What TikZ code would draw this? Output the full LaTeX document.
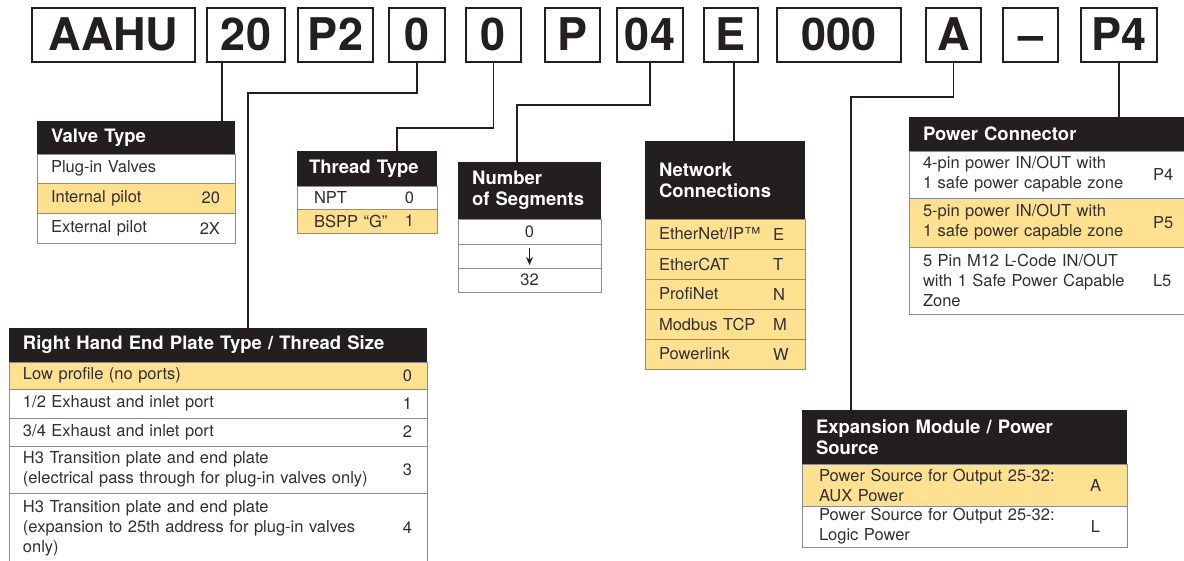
\documentclass[tikz,border=0pt]{standalone}
\usepackage{fontspec}
\setmainfont{TeX Gyre Heros}
\usetikzlibrary{positioning, arrows.meta}
\definecolor{ink}{RGB}{35,31,32}
\definecolor{txt}{RGB}{50,47,48}
\definecolor{rule}{RGB}{140,140,140}
\definecolor{hilite}{RGB}{254,224,145}
\tikzset{
    x=1pt, y=-1pt, % pixel grid, origin top left
    every node/.style={inner sep=0pt, outer sep=0pt},
    code/.style={draw=ink, line width=1.1pt, minimum height=54pt, text height=32pt, text depth=0pt, anchor=north west, text=ink, font=\fontsize{45}{45}\selectfont\bfseries}, % order code boxes
    head/.style={fill=ink, text=white, inner xsep=14pt, align=left, anchor=north west, font=\fontsize{18.5}{21}\selectfont\bfseries}, % table titles
    row/.style={draw=rule, line width=0.8pt, inner xsep=14pt, align=left, text=txt, font=\fontsize{16.5}{20}\selectfont},
    sel/.style={row, fill=hilite}, % highlighted option
    val/.style={text=txt, font=\fontsize{16.5}{20}\selectfont},
    link/.style={draw=ink, line width=1.5pt},
}

\begin{document}
\begin{tikzpicture}
    \useasboundingbox (0,0) rectangle (1184,561);

    % Order code
    \foreach \nm/\x/\w/\t in {AAHU/32/163/AAHU, 20/207/78/20, P2/298/75/P2, 0a/389/56/0, 0b/466/55/0,
        P/545/55/P, 04/617/66/04, E/704/54/E, 000/777/124/000, A/926/55/A, dash/1003/55/{--}, P4/1081/76/P4}
        \node[code, minimum width=\w pt] (c\nm) at (\x,8) {\t};

    % Valve type
    \node[head, text width=170pt, minimum height=33pt] (vt-h) at (37,121) {Valve Type};
    \node[row, text width=170pt, minimum height=29pt, below=0pt of vt-h] (vt-1) {Plug-in Valves};
    \node[sel, text width=170pt, minimum height=30pt, below=0pt of vt-1] (vt-2) {Internal pilot};
    \node[row, text width=170pt, minimum height=30pt, below=0pt of vt-2] (vt-3) {External pilot};
    \node[val, left=15pt of vt-2.east] {20};
    \node[val, left=15pt of vt-3.east] {2X};

    % Thread type
    \node[head, inner xsep=12pt, text width=116pt, minimum height=35pt] (tt-h) at (297,151) {Thread Type};
    \node[row, inner xsep=17pt, text width=106pt, minimum height=23pt, below=0pt of tt-h] (tt-1) {NPT};
    \node[sel, inner xsep=17pt, text width=106pt, minimum height=24pt, below=0pt of tt-1] (tt-2) {BSPP “G”};
    \node[val, left=23pt of tt-1.east] {0};
    \node[val, left=23pt of tt-2.east] {1};

    % Number of segments
    \node[head, text width=115pt, minimum height=57pt] (ns-h) at (458,162) {Number\\of Segments};
    \node[row, align=center, text width=115pt, minimum height=25pt, below=0pt of ns-h] (ns-1) {0};
    \node[row, text width=115pt, minimum height=24pt, below=0pt of ns-1] (ns-2) {};
    \node[row, align=center, text width=115pt, minimum height=24pt, below=0pt of ns-2] (ns-3) {32};
    \draw[-{Stealth[length=8pt,width=7pt]}, line width=1pt, draw=ink] ([yshift=-4pt]ns-2.north) -- ([yshift=3pt]ns-2.south);

    % Network connections
    \node[head, text width=132pt, minimum height=78pt] (nc-0) at (645,141) {Network\\Connections};
    \foreach \i/\t/\c in {1/{EtherNet/IP\texttrademark}/E, 2/EtherCAT/T, 3/ProfiNet/N, 4/Modbus TCP/M, 5/Powerlink/W} {
        \pgfmathtruncatemacro\j{\i-1}
        \node[sel, text width=132pt, minimum height=30pt, below=0pt of nc-\j] (nc-\i) {\t};
        \node[val, right=128pt of nc-\i.west] {\c};
    }

    % Power connector
    \node[head, text width=253pt, minimum height=34pt] (pc-h) at (909,117) {Power Connector};
    \node[row, text width=253pt, minimum height=47pt, below=0pt of pc-h] (pc-1) {4-pin power IN/OUT with\\1 safe power capable zone};
    \node[sel, text width=253pt, minimum height=49pt, below=0pt of pc-1] (pc-2) {5-pin power IN/OUT with\\1 safe power capable zone};
    \node[row, text width=253pt, minimum height=67pt, below=0pt of pc-2] (pc-3) {5 Pin M12 L-Code IN/OUT\\with 1 Safe Power Capable\\Zone};
    \node[val, right=244pt of pc-1.west] {P4};
    \node[val, right=244pt of pc-2.west] {P5};
    \node[val, right=244pt of pc-3.west] {L5};

    % Right hand end plate
    \node[head, text width=390pt, minimum height=34pt] (rh-h) at (9,328) {Right Hand End Plate Type / Thread Size};
    \node[sel, text width=390pt, minimum height=27pt, below=0pt of rh-h] (rh-1) {Low profile (no ports)};
    \node[row, text width=390pt, minimum height=29pt, below=0pt of rh-1] (rh-2) {1/2 Exhaust and inlet port};
    \node[row, text width=390pt, minimum height=28pt, below=0pt of rh-2] (rh-3) {3/4 Exhaust and inlet port};
    \node[row, text width=390pt, minimum height=47pt, below=0pt of rh-3] (rh-4) {H3 Transition plate and end plate\\(electrical pass through for plug-in valves only)};
    \node[row, text width=390pt, minimum height=70pt, below=0pt of rh-4] (rh-5) {H3 Transition plate and end plate\\(expansion to 25th address for plug-in valves\\only)};
    \foreach \i/\c in {1/0, 2/1, 3/2, 4/3, 5/4}
        \node[val, left=15pt of rh-\i.east] {\c};

    % Expansion module
    \node[head, text width=297pt, minimum height=54pt] (em-h) at (802,410) {Expansion Module / Power\\Source};
    \node[sel, inner xsep=17pt, text width=291pt, minimum height=42pt, below=0pt of em-h] (em-1) {Power Source for Output 25-32:\\AUX Power};
    \node[row, inner xsep=17pt, text width=291pt, minimum height=41pt, below=0pt of em-1] (em-2) {Power Source for Output 25-32:\\Logic Power};
    \node[val, left=26pt of em-1.east] {A};
    \node[val, left=27pt of em-2.east] {L};

    % Leader lines
    \coordinate (vtk) at ([xshift=15pt]c20.south west);
    \coordinate (rhk) at (248,93);
    \coordinate (ttk) at (397,128);
    \coordinate (nsk) at (517,105);
    \coordinate (emk) at (851,97);
    \draw[link] (vtk) -- (vtk |- vt-h.north);
    \draw[link] (c0a.south) |- (rhk) -- (rhk |- rh-h.north);
    \draw[link] (c0b.south) |- (ttk) -- (ttk |- tt-h.north);
    \draw[link] (c04.south) |- (nsk) -- (nsk |- ns-h.north);
    \draw[link] ([xshift=3pt]cE.south) -- ([xshift=3pt]cE.south |- nc-0.north);
    \draw[link] (cA.south) |- (emk) -- (emk |- em-h.north);
    \draw[link] (cP4.south) -- (cP4.south |- pc-h.north);
\end{tikzpicture}
\end{document}
